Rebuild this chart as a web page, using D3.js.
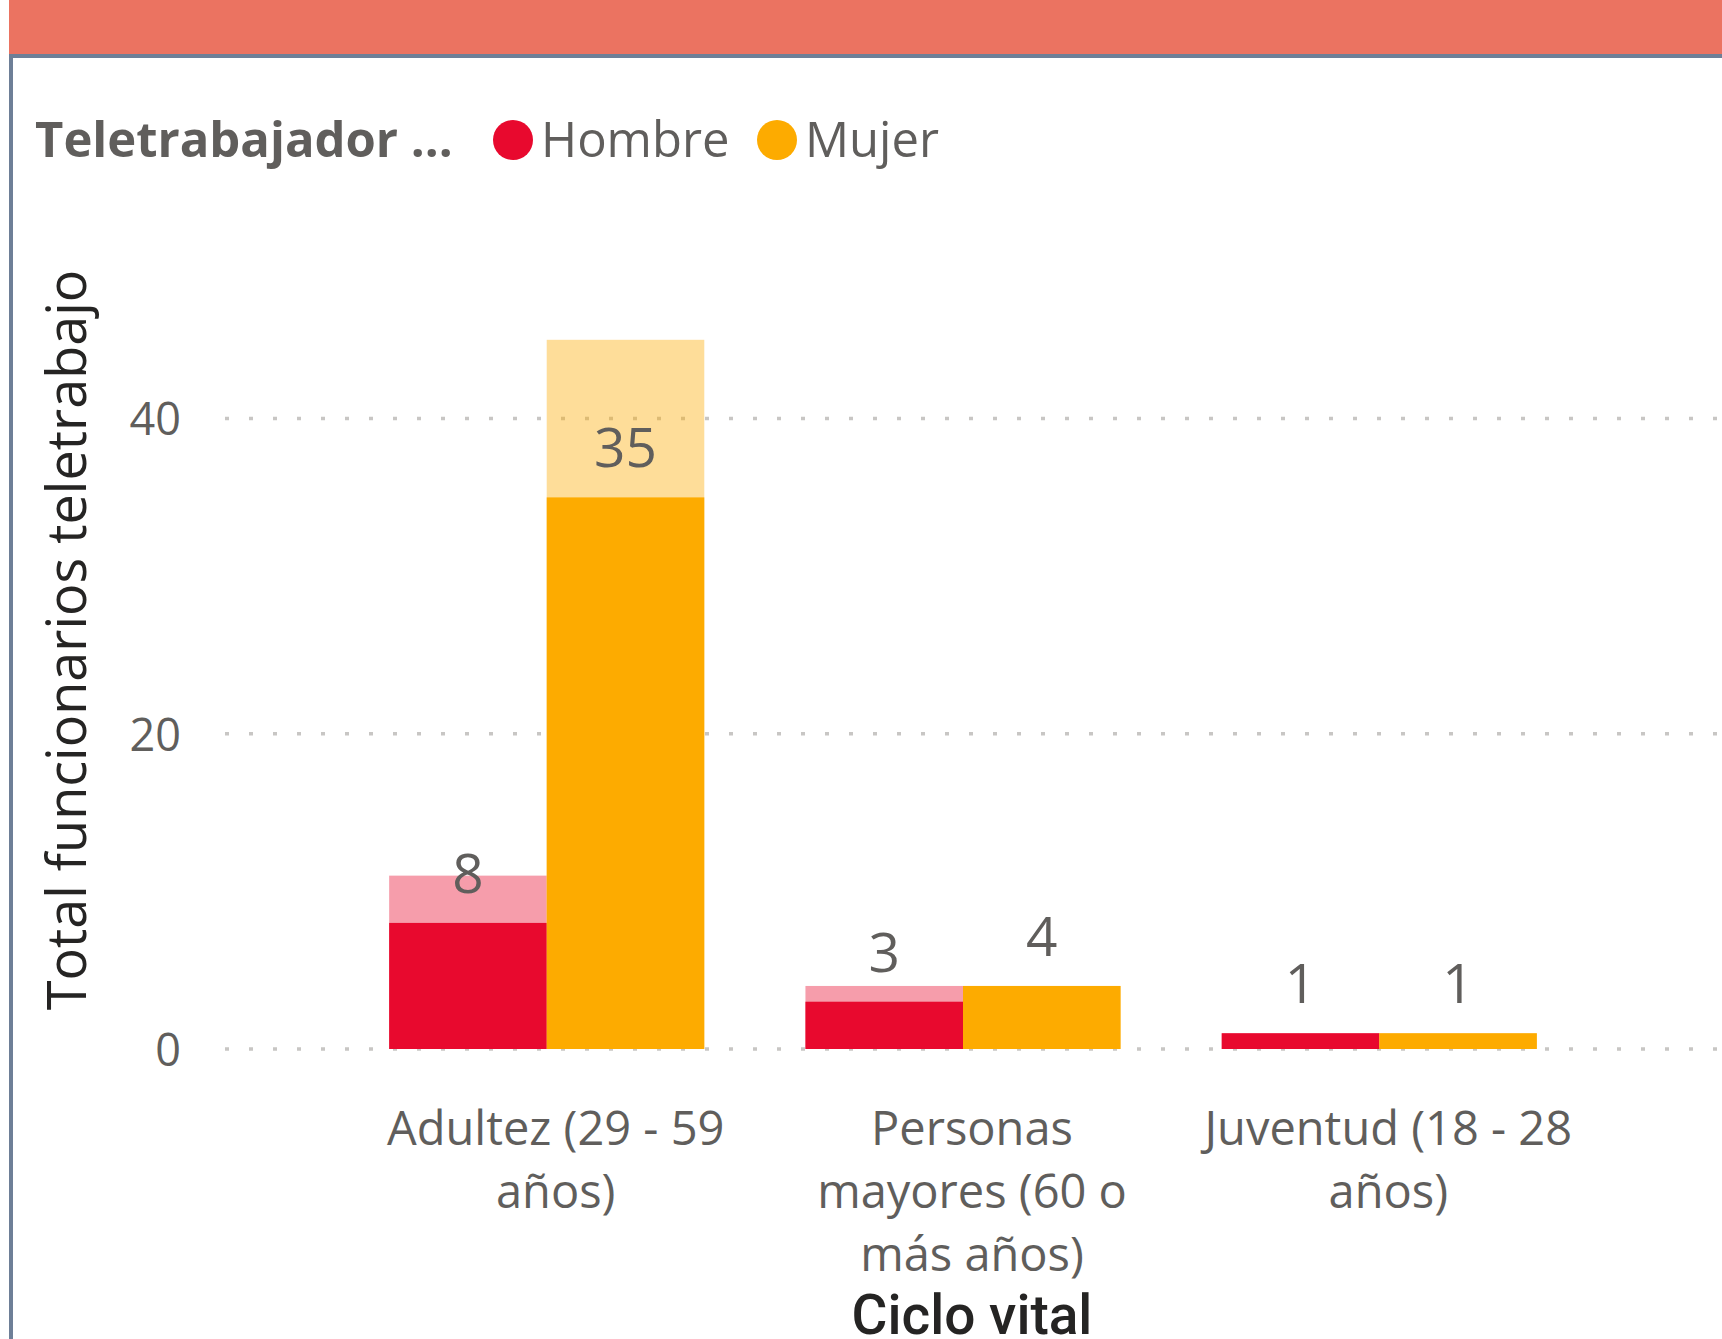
<!DOCTYPE html>
<html>
<head>
<meta charset="utf-8">
<script src="https://cdn.jsdelivr.net/npm/d3@7"></script>
<style>
  html, body { margin: 0; padding: 0; background: #fff; }
  svg { display: block; }
  text { font-family: "Open Sans", "Noto Sans", sans-serif; }
</style>
</head>
<body>
<svg id="chart" width="1722" height="1339"></svg>
<script>
// Age groups (x categories) and their wrapped axis labels
const categories = ["Adultez (29 - 59 años)", "Personas mayores (60 o más años)", "Juventud (18 - 28 años)"];
const categoryLines = [
  ["Adultez (29 - 59", "años)"],
  ["Personas", "mayores (60 o", "más años)"],
  ["Juventud (18 - 28", "años)"]
];
const genders = ["Hombre", "Mujer"];

// Highlighted (selected) counts per gender, in category order
const hombreHighlight = [8, 3, 1];
const mujerHighlight = [35, 4, 1];
// Overall totals per gender (shown as the faded part of each column)
const hombreTotal = [11, 4, 1];
const mujerTotal = [45, 4, 1];

const yTicks = [0, 20, 40];

const colors = { Hombre: "#E8092E", Mujer: "#FDAB00" };

const svg = d3.select("#chart");
const W = 1722, H = 1339;

// Card frame: coral header band, slate rule and left border
svg.append("rect").attr("x", 9).attr("y", 0).attr("width", W - 9).attr("height", 54).attr("fill", "#EB7361");
svg.append("rect").attr("x", 9).attr("y", 54).attr("width", W - 9).attr("height", 4).attr("fill", "#6E7F97");
svg.append("rect").attr("x", 9).attr("y", 54).attr("width", 4).attr("height", H - 54).attr("fill", "#6E7F97");

// Scales
const x = d3.scaleBand().domain(categories).range([288, 1638]).paddingInner(0.243).paddingOuter(0.243);
const xSub = d3.scaleBand().domain(genders).range([0, x.bandwidth()]).padding(0);
const y = d3.scaleLinear().domain([0, 50]).range([1049, 261]);

// Dotted gridlines
const grid = svg.append("g");
grid.selectAll("line").data(yTicks).join("line")
  .attr("x1", 225).attr("x2", W)
  .attr("y1", d => y(d)).attr("y2", d => y(d))
  .attr("stroke", "#C8C6C4").attr("stroke-width", 3.5)
  .attr("stroke-dasharray", "4,20");

// Y axis tick labels
const yAxis = d3.axisLeft(y).tickValues(yTicks).tickSize(0).tickPadding(0);
const gy = svg.append("g").attr("transform", "translate(181,0)").call(yAxis);
gy.select(".domain").remove();
gy.selectAll("text")
  .attr("fill", "#605E5C")
  .style("font-family", "'Open Sans', sans-serif")
  .style("font-size", "45px")
  .attr("dy", "0.36em");

// Rows for bars
const rows = categories.map((c, i) => ({
  cat: c,
  values: [
    { g: "Hombre", hi: hombreHighlight[i], total: hombreTotal[i] },
    { g: "Mujer", hi: mujerHighlight[i], total: mujerTotal[i] }
  ]
}));

const groups = svg.append("g").selectAll("g").data(rows).join("g")
  .attr("transform", d => `translate(${x(d.cat)},0)`);

// Faded full totals
groups.selectAll("rect.total").data(d => d.values).join("rect")
  .attr("class", "total")
  .attr("x", d => xSub(d.g)).attr("width", xSub.bandwidth())
  .attr("y", d => y(d.total)).attr("height", d => y(0) - y(d.total))
  .attr("fill", d => colors[d.g]).attr("fill-opacity", 0.4);

// Highlighted portions
groups.selectAll("rect.hi").data(d => d.values).join("rect")
  .attr("class", "hi")
  .attr("x", d => xSub(d.g)).attr("width", xSub.bandwidth())
  .attr("y", d => y(d.hi)).attr("height", d => y(0) - y(d.hi))
  .attr("fill", d => colors[d.g]);

// Data labels above highlighted value
groups.selectAll("text.val").data(d => d.values).join("text")
  .attr("class", "val")
  .attr("x", d => xSub(d.g) + xSub.bandwidth() / 2)
  .attr("y", d => y(d.hi) - 30)
  .attr("text-anchor", "middle")
  .attr("fill", "#605E5C")
  .style("font-size", "55px")
  .text(d => d.hi);

// X axis category labels (wrapped)
const labelShift = 9;
const xl = svg.append("g").selectAll("text").data(categories).join("text")
  .attr("x", d => x(d) + x.bandwidth() / 2 + labelShift)
  .attr("y", 1145)
  .attr("text-anchor", "middle")
  .attr("fill", "#605E5C")
  .style("font-size", "47px");
xl.each(function(d, i) {
  d3.select(this).selectAll("tspan").data(categoryLines[i]).join("tspan")
    .attr("x", x(d) + x.bandwidth() / 2 + labelShift)
    .attr("dy", (t, j) => j === 0 ? 0 : 63)
    .text(t => t);
});

// Axis titles
svg.append("text")
  .attr("x", 972).attr("y", 1334)
  .attr("text-anchor", "middle")
  .attr("fill", "#252423")
  .style("font-family", "Roboto, 'Open Sans', sans-serif")
  .style("font-weight", 500)
  .style("font-size", "55px")
  .text("Ciclo vital");

svg.append("text")
  .attr("transform", "translate(86,640) rotate(-90)")
  .attr("text-anchor", "middle")
  .attr("fill", "#252423")
  .style("font-size", "54px")
  .text("Total funcionarios teletrabajo");

// Legend
const legend = svg.append("g");
legend.append("text")
  .attr("x", 35).attr("y", 157)
  .attr("fill", "#605E5C")
  .style("font-weight", 700)
  .style("font-size", "49px")
  .text("Teletrabajador ...");
const legendX = { Hombre: 513, Mujer: 777 };
genders.forEach(g => {
  legend.append("circle").attr("cx", legendX[g]).attr("cy", 140).attr("r", 20).attr("fill", colors[g]);
  legend.append("text")
    .attr("x", legendX[g] + 28).attr("y", 157)
    .attr("fill", "#605E5C")
    .style("font-size", "49px")
    .text(g);
});
</script>
</body>
</html>
